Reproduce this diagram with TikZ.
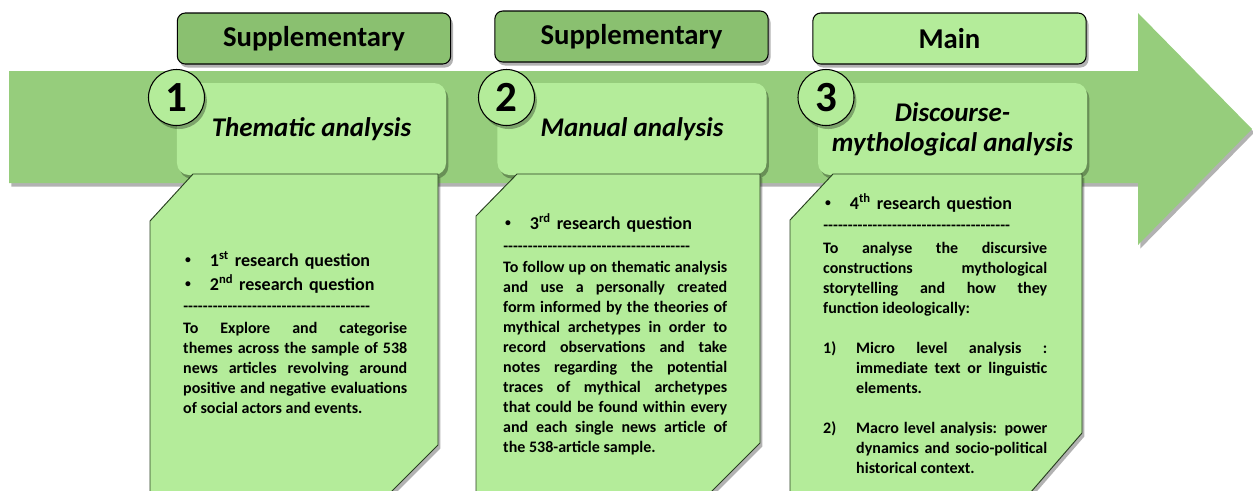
\documentclass[tikz,border=0pt]{standalone}
\usepackage{fontspec}
\setmainfont{Carlito}
\usetikzlibrary{shadows}

\definecolor{arrowgreen}{RGB}{150,205,124}
\definecolor{hdrgreen}{RGB}{138,192,112}
\definecolor{lightgreen}{RGB}{180,236,154}
\definecolor{edgegreen}{RGB}{40,62,32}

\hyphenpenalty=10000
\tolerance=9000
\newcommand\dashline{\hbox to 5.61cm{\xleaders\hbox{-}\hfill}}
\newcommand\dotmark{\raisebox{0.12em}{\fontsize{10}{10}\selectfont\textbullet}}
\newcommand\rqline[2]{\makebox[0.8cm][l]{\hspace{0.1em}\dotmark}#1\textsuperscript{#2} research question}
\newcommand\bodyfont{\fontsize{13.66}{17.07}\selectfont\bfseries}

\tikzset{
  shade/.style={drop shadow={shadow xshift=2pt, shadow yshift=-3pt, opacity=.3, fill=black}},
  hdr/.style={draw=black, line width=0.9pt, rounded corners=0.24cm, minimum width=8.2cm,
    minimum height=1.53cm, font=\fontsize{24.5}{28}\selectfont\bfseries, shade},
  stepbox/.style={fill=lightgreen, rounded corners=0.36cm, minimum width=8.07cm,
    minimum height=2.76cm, align=center, font=\fontsize{23}{25.6}\selectfont\bfseries\itshape, shade},
  card/.style={fill=lightgreen, draw=edgegreen, line width=0.8pt, shade},
  num/.style={circle, draw=black, line width=0.9pt, fill=lightgreen, minimum size=1.68cm,
    inner sep=0, font=\fontsize{36.7}{40}\selectfont\bfseries, shade},
  para/.style={inner sep=0, anchor=north west, text width=6.72cm, align=justify, font=\bodyfont},
  qline/.style={inner sep=0, anchor=north west, text width=6.72cm, align=left,
    font=\fontsize{15.4}{20.5}\selectfont\bfseries},
  dashes/.style={inner sep=0, anchor=base west, font=\bodyfont}
}

\begin{document}
\begin{tikzpicture}[x=0.03cm, y=-0.03cm]
\useasboundingbox (0,0) rectangle (1253,490);
\clip (0,0) rectangle (1253,490);
% arrow
\fill[arrowgreen, shade] (9,71) -- (1138,71) -- (1138,13) -- (1252,129) -- (1138,245)
  -- (1138,183) -- (9,183) -- cycle;
% steps
\node[stepbox] (t1) at (311.5,129) {Thematic analysis};
\node[stepbox] (t2) at (632,129) {Manual analysis};
\node[stepbox] (t3) at (952.5,129) {Discourse-\\mythological analysis};
% cards
\path[card] (193,174) -- (438,174) -- (438,445) -- (383,500) -- (150,500) -- (150,221) -- cycle;
\path[card] (517,174) -- (760,174) -- (760,443) -- (703,500) -- (476,500) -- (476,216) -- cycle;
\path[card] (833,174) -- (1082,174) -- (1082,433) -- (1024,500) -- (790,500) -- (790,220) -- cycle;
% numbers
\node[num] (n1) at (176.5,97.5) {1};
\node[num] (n2) at (506.5,97.5) {2};
\node[num] (n3) at (826,97.5) {3};
% headers
\node[hdr, fill=hdrgreen] (h1) at (314,38.5) {Supplementary};
\node[hdr, fill=hdrgreen] (h2) at (631.5,36.5) {Supplementary};
\node[hdr, fill=lightgreen] (h3) at (949.5,38.5) {Main};

% card 1
\node[qline] (q1) at (183,249) {\strut\rqline{1}{st}\par\rqline{2}{nd}};
\node[dashes] (d1) at (183,311) {\dashline};
\node[para] (p1) at (183,319) {\strut To Explore and categorise\linebreak
  themes across the sample of 538\linebreak news articles revolving around\linebreak
  positive and negative evaluations\linebreak of social actors and events.};
% card 2
\node[qline] (q2) at (503,212) {\strut\rqline{3}{rd}};
\node[dashes] (d2) at (503,251) {\dashline};
\node[para] (p2) at (503,258) {\strut To follow up on thematic analysis\linebreak
  and use a personally created\linebreak form informed by the theories of\linebreak
  mythical archetypes in order to\linebreak record observations and take\linebreak
  notes regarding the potential\linebreak traces of mythical archetypes\linebreak
  that could be found within every\linebreak and each single news article of\linebreak
  the 538-article sample.};
% card 3
\node[qline] (q3) at (823,192) {\strut\rqline{4}{th}};
\node[dashes] (d3) at (823,230) {\dashline};
\node[para] (p3) at (823,239) {\strut To analyse the discursive\linebreak
  constructions mythological\linebreak storytelling and how they\linebreak
  function ideologically:\par\vspace{\baselineskip}
  \hangindent=0.99cm\hangafter=1\noindent\makebox[0.99cm][l]{1)}Micro level analysis :\linebreak
  immediate text or linguistic\linebreak elements.\par\vspace{\baselineskip}
  \hangindent=0.99cm\hangafter=1\noindent\makebox[0.99cm][l]{2)}Macro level analysis: power\linebreak
  dynamics and socio-political\linebreak historical context.\par};
\end{tikzpicture}
\end{document}
